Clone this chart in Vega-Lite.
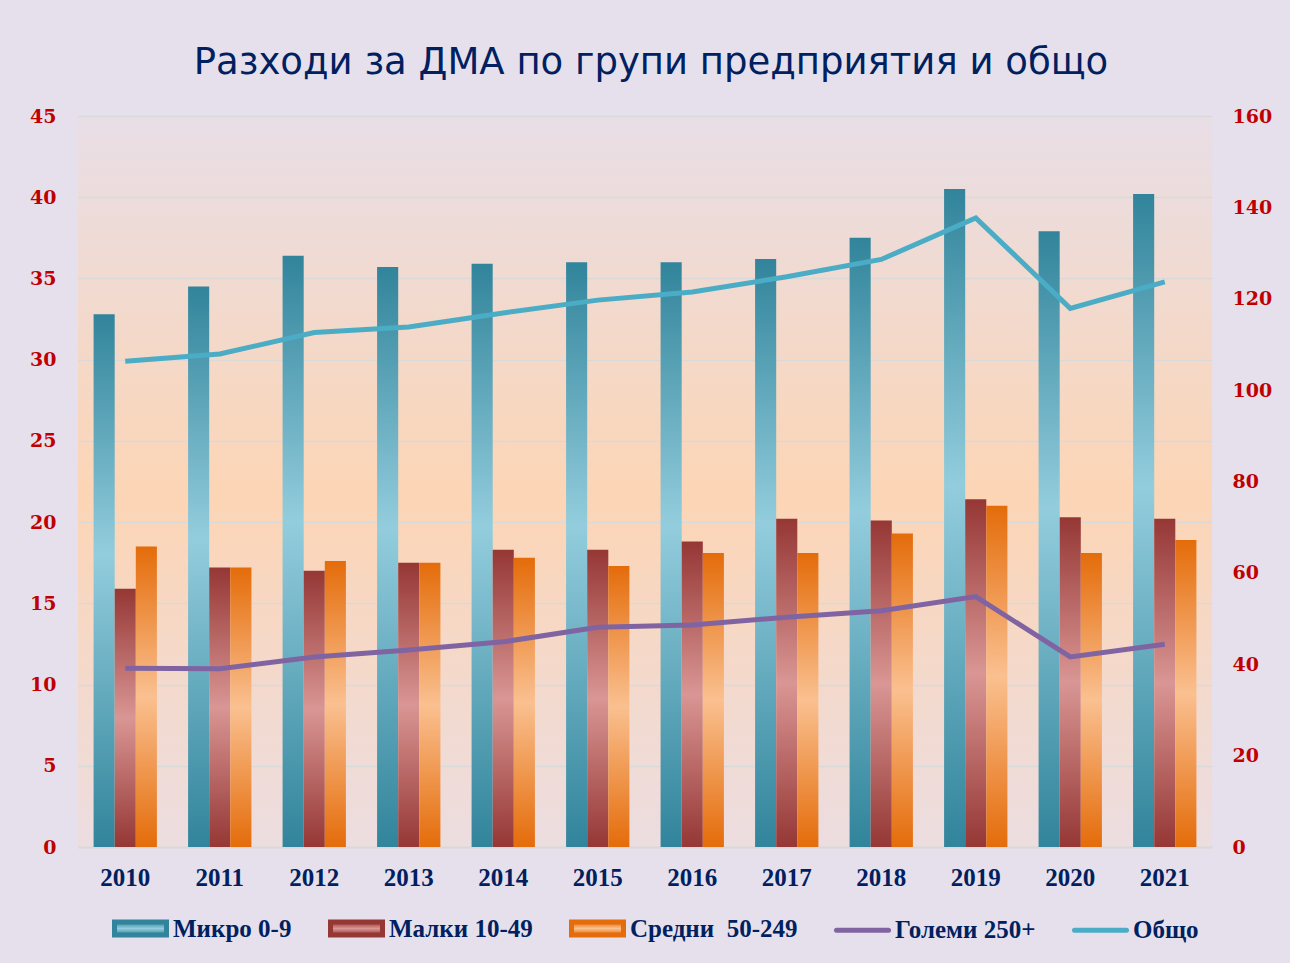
{
  "$schema": "https://vega.github.io/schema/vega-lite/v6.json",
  "width": 1134,
  "height": 731,
  "autosize": {"type": "none"},
  "padding": {"left": 78, "top": 116, "right": 78, "bottom": 116},
  "background": "#E6E0EC",
  "config": {
    "view": {
      "stroke": null,
      "fill": {"gradient": "linear", "x1": 0, "y1": 0, "x2": 0, "y2": 1,
        "stops": [{"offset": 0, "color": "#E8DEE6"}, {"offset": 0.52, "color": "#FCD5B5"}, {"offset": 1, "color": "#ECDDE0"}]}
    }
  },
  "title": {
    "text": "Разходи за ДМА по групи предприятия и общо",
    "font": "DejaVu Sans",
    "fontSize": 37,
    "fontWeight": "normal",
    "color": "#002060",
    "anchor": "middle",
    "offset": 27,
    "dx": 6,
    "dy": 2
  },
  "data": {
    "values": [
      {"year": "2010", "series": "Микро 0-9", "value": 32.8},
      {"year": "2011", "series": "Микро 0-9", "value": 34.5},
      {"year": "2012", "series": "Микро 0-9", "value": 36.4},
      {"year": "2013", "series": "Микро 0-9", "value": 35.7},
      {"year": "2014", "series": "Микро 0-9", "value": 35.9},
      {"year": "2015", "series": "Микро 0-9", "value": 36.0},
      {"year": "2016", "series": "Микро 0-9", "value": 36.0},
      {"year": "2017", "series": "Микро 0-9", "value": 36.2},
      {"year": "2018", "series": "Микро 0-9", "value": 37.5},
      {"year": "2019", "series": "Микро 0-9", "value": 40.5},
      {"year": "2020", "series": "Микро 0-9", "value": 37.9},
      {"year": "2021", "series": "Микро 0-9", "value": 40.2},
      {"year": "2010", "series": "Малки 10-49", "value": 15.9},
      {"year": "2011", "series": "Малки 10-49", "value": 17.2},
      {"year": "2012", "series": "Малки 10-49", "value": 17.0},
      {"year": "2013", "series": "Малки 10-49", "value": 17.5},
      {"year": "2014", "series": "Малки 10-49", "value": 18.3},
      {"year": "2015", "series": "Малки 10-49", "value": 18.3},
      {"year": "2016", "series": "Малки 10-49", "value": 18.8},
      {"year": "2017", "series": "Малки 10-49", "value": 20.2},
      {"year": "2018", "series": "Малки 10-49", "value": 20.1},
      {"year": "2019", "series": "Малки 10-49", "value": 21.4},
      {"year": "2020", "series": "Малки 10-49", "value": 20.3},
      {"year": "2021", "series": "Малки 10-49", "value": 20.2},
      {"year": "2010", "series": "Средни\u00a0 50-249", "value": 18.5},
      {"year": "2011", "series": "Средни\u00a0 50-249", "value": 17.2},
      {"year": "2012", "series": "Средни\u00a0 50-249", "value": 17.6},
      {"year": "2013", "series": "Средни\u00a0 50-249", "value": 17.5},
      {"year": "2014", "series": "Средни\u00a0 50-249", "value": 17.8},
      {"year": "2015", "series": "Средни\u00a0 50-249", "value": 17.3},
      {"year": "2016", "series": "Средни\u00a0 50-249", "value": 18.1},
      {"year": "2017", "series": "Средни\u00a0 50-249", "value": 18.1},
      {"year": "2018", "series": "Средни\u00a0 50-249", "value": 19.3},
      {"year": "2019", "series": "Средни\u00a0 50-249", "value": 21.0},
      {"year": "2020", "series": "Средни\u00a0 50-249", "value": 18.1},
      {"year": "2021", "series": "Средни\u00a0 50-249", "value": 18.9},
      {"year": "2010", "series": "Големи 250+", "value": 39.1},
      {"year": "2011", "series": "Големи 250+", "value": 39.0},
      {"year": "2012", "series": "Големи 250+", "value": 41.6},
      {"year": "2013", "series": "Големи 250+", "value": 43.1},
      {"year": "2014", "series": "Големи 250+", "value": 44.9},
      {"year": "2015", "series": "Големи 250+", "value": 48.1},
      {"year": "2016", "series": "Големи 250+", "value": 48.6},
      {"year": "2017", "series": "Големи 250+", "value": 50.3},
      {"year": "2018", "series": "Големи 250+", "value": 51.7},
      {"year": "2019", "series": "Големи 250+", "value": 54.8},
      {"year": "2020", "series": "Големи 250+", "value": 41.6},
      {"year": "2021", "series": "Големи 250+", "value": 44.4},
      {"year": "2010", "series": "Общо", "value": 106.3},
      {"year": "2011", "series": "Общо", "value": 107.9},
      {"year": "2012", "series": "Общо", "value": 112.6},
      {"year": "2013", "series": "Общо", "value": 113.8},
      {"year": "2014", "series": "Общо", "value": 116.9},
      {"year": "2015", "series": "Общо", "value": 119.7},
      {"year": "2016", "series": "Общо", "value": 121.5},
      {"year": "2017", "series": "Общо", "value": 124.8},
      {"year": "2018", "series": "Общо", "value": 128.6},
      {"year": "2019", "series": "Общо", "value": 137.7},
      {"year": "2020", "series": "Общо", "value": 117.9},
      {"year": "2021", "series": "Общо", "value": 123.7}
    ]
  },
  "encoding": {
    "x": {
      "field": "year",
      "type": "ordinal",
      "scale": {"paddingInner": 0.33, "paddingOuter": 0.165},
      "axis": {
        "title": null,
        "labelAngle": 0,
        "labelFont": "Liberation Serif",
        "labelFontSize": 25,
        "labelFontWeight": "bold",
        "labelColor": "#002060",
        "ticks": false,
        "domain": true,
        "domainColor": "#D9D9D9",
        "domainWidth": 2,
        "labelPadding": 18,
        "grid": false
      }
    }
  },
  "layer": [
    {
      "encoding": {
        "xOffset": {
          "field": "series",
          "type": "nominal",
          "scale": {"domain": ["Микро 0-9", "Малки 10-49", "Средни\u00a0 50-249"], "paddingInner": 0, "paddingOuter": 0}
        },
        "y": {
          "field": "value",
          "type": "quantitative",
          "scale": {"domain": [0, 45], "nice": false},
          "axis": {
            "orient": "left",
            "title": null,
            "values": [0, 5, 10, 15, 20, 25, 30, 35, 40, 45],
            "labelFont": "DejaVu Serif",
            "labelFontSize": 19,
            "labelFontWeight": "bold",
            "labelColor": "#C00000",
            "ticks": false,
            "domain": false,
            "grid": true,
            "gridColor": "#D9D9D9",
            "gridWidth": 1.5,
            "labelPadding": 22
          }
        }
      },
      "layer": [
        {
          "transform": [{"filter": {"field": "series", "equal": "Микро 0-9"}}],
          "mark": {"type": "bar", "color": {"gradient": "linear", "x1": 0, "y1": 0, "x2": 0, "y2": 1, "stops": [{"offset": 0, "color": "#31849B"}, {"offset": 0.45, "color": "#93CDDD"}, {"offset": 1, "color": "#31849B"}]}}
        },
        {
          "transform": [{"filter": {"field": "series", "equal": "Малки 10-49"}}],
          "mark": {"type": "bar", "color": {"gradient": "linear", "x1": 0, "y1": 0, "x2": 0, "y2": 1, "stops": [{"offset": 0, "color": "#953735"}, {"offset": 0.5, "color": "#D99694"}, {"offset": 1, "color": "#953735"}]}}
        },
        {
          "transform": [{"filter": {"field": "series", "equal": "Средни\u00a0 50-249"}}],
          "mark": {"type": "bar", "color": {"gradient": "linear", "x1": 0, "y1": 0, "x2": 0, "y2": 1, "stops": [{"offset": 0, "color": "#E46C0A"}, {"offset": 0.5, "color": "#FAC090"}, {"offset": 1, "color": "#E46C0A"}]}}
        }
      ]
    },
    {
      "transform": [{"filter": {"field": "series", "oneOf": ["Големи 250+", "Общо"]}}],
      "mark": {"type": "line", "strokeWidth": 5},
      "encoding": {
        "y": {
          "field": "value",
          "type": "quantitative",
          "scale": {"domain": [0, 160], "nice": false},
          "axis": {
            "orient": "right",
            "title": null,
            "values": [0, 20, 40, 60, 80, 100, 120, 140, 160],
            "labelFont": "DejaVu Serif",
            "labelFontSize": 19,
            "labelFontWeight": "bold",
            "labelColor": "#C00000",
            "ticks": false,
            "domain": false,
            "grid": false,
            "labelPadding": 20
          }
        },
        "color": {
          "field": "series",
          "type": "nominal",
          "scale": {
            "domain": ["Микро 0-9", "Малки 10-49", "Средни\u00a0 50-249", "Големи 250+", "Общо"],
            "range": ["#31849B", "#953735", "#E46C0A", "#8064A2", "#4BACC6"]
          },
          "legend": {
            "orient": "bottom",
            "offset": -24,
            "padding": 34,
            "direction": "horizontal",
            "title": null,
            "columns": 5,
            "columnPadding": 28,
            "symbolSize": 2704,
            "labelFont": "Liberation Serif",
            "labelFontSize": 25,
            "labelFontWeight": "bold",
            "labelColor": "#002060",
            "labelOffset": 4,
            "labelLimit": 300,
            "encode": {
              "symbols": {
                "update": {
                  "shape": [
                    {"test": "datum.value == 'Големи 250+' || datum.value == 'Общо'", "value": "M-1,0H1"},
                    {"value": "M-1,-0.25H1V0.25H-1Z"}
                  ],
                  "fill": [
                    {"test": "datum.value == 'Микро 0-9'", "value": {"gradient": "linear", "x1": 0, "y1": 0, "x2": 0, "y2": 1, "stops": [{"offset": 0, "color": "#31849B"}, {"offset": 0.5, "color": "#93CDDD"}, {"offset": 1, "color": "#31849B"}]}},
                    {"test": "datum.value == 'Малки 10-49'", "value": {"gradient": "linear", "x1": 0, "y1": 0, "x2": 0, "y2": 1, "stops": [{"offset": 0, "color": "#953735"}, {"offset": 0.5, "color": "#D99694"}, {"offset": 1, "color": "#953735"}]}},
                    {"test": "datum.value == 'Големи 250+' || datum.value == 'Общо'", "value": "transparent"},
                    {"value": {"gradient": "linear", "x1": 0, "y1": 0, "x2": 0, "y2": 1, "stops": [{"offset": 0, "color": "#E46C0A"}, {"offset": 0.5, "color": "#FAC090"}, {"offset": 1, "color": "#E46C0A"}]}}
                  ],
                  "stroke": [
                    {"test": "datum.value == 'Големи 250+' || datum.value == 'Общо'", "scale": "color", "field": "value"},
                    {"value": "transparent"}
                  ],
                  "strokeWidth": {"value": 5},
                  "strokeCap": {"value": "round"},
                  "opacity": {"value": 1}
                }
              }
            }
          }
        }
      }
    }
  ],
  "resolve": {"scale": {"y": "independent"}}
}
